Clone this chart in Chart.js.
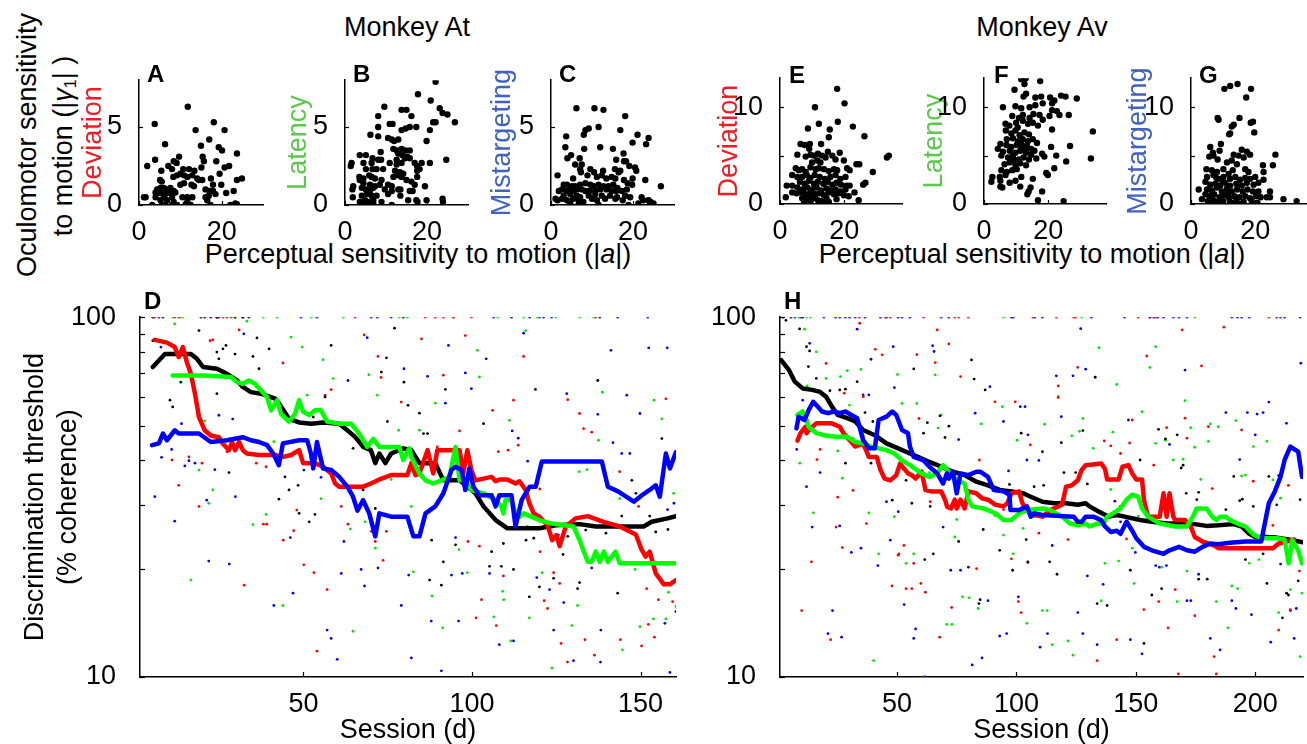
<!DOCTYPE html>
<html><head><meta charset="utf-8">
<script src="https://cdn.jsdelivr.net/npm/chart.js@4.4.1/dist/chart.umd.min.js"></script>
<style>
html,body{margin:0;padding:0;background:#fff;}
body{width:1307px;height:744px;position:relative;overflow:hidden;font-family:"Liberation Sans",Arial,Helvetica,sans-serif;}
canvas{position:absolute;}
.t{position:absolute;white-space:nowrap;font-size:27px;line-height:1;color:#000;transform:translate(-50%,-50%);}
.r{transform:translate(-50%,-50%) rotate(-90deg);}
sub{font-size:16px;vertical-align:-4px;}
</style></head><body>
<div class="t" style="left:407px;top:27px">Monkey At</div>
<div class="t" style="left:1042px;top:27px">Monkey Av</div>
<div class="t r" style="left:27px;top:145px">Oculomotor sensitivity</div>
<div class="t r" style="left:64px;top:146px">to motion (|<i>γ</i><sub>1</sub>| )</div>
<div class="t" style="left:418px;top:254px">Perceptual sensitivity to motion (|<i>a</i>|)</div>
<div class="t" style="left:1032px;top:254px">Perceptual sensitivity to motion (|<i>a</i>|)</div>
<script>
// ---------- tick labels ----------
const TOP_X_TICKS = [0, 20];
const AC_Y_TICKS = [0, 5];
const EG_Y_TICKS = [0, 10];
const EG_Y_MARKS = [0, 5, 10];
const LOG_Y_TICKS = [10, 100];
const LOG_Y_MARKS = [10, 20, 30, 40, 50, 60, 70, 80, 90, 100];
const D_X_TICKS = [50, 100, 150];
const H_X_TICKS = [50, 100, 150, 200];
const PANEL_TITLES = ['Deviation', 'Latency', 'Mistargeting'];

// ---------- Monkey At scatter (|a|, |gamma1|) ----------
const A_DEV = [[11.8,6.3],[3.8,5.2],[18.1,5.3],[13.7,4.8],[20.7,4.8],[6.3,3.9],[17,4.2],[15,3.8],[19.3,3.7],[20.1,3.5],[23.7,3.3],[3.9,2.9],[2,2.5],[9.7,3.1],[15.4,3.1],[15.7,2.8],[18.7,2.8],[8.4,2.8],[9.1,2.7],[7.1,2.5],[21.8,2.5],[20.7,2.4],[8,2.3],[5.4,2.2],[10.7,2.3],[12.1,2.3],[13.4,2.2],[15.1,2.4],[8.3,1.8],[9.2,1.9],[10,2],[10.9,1.9],[11.7,1.8],[12.9,1.9],[14.1,1.7],[14.5,1.6],[15.3,1.6],[19.5,2],[17.4,1.7],[23.7,1.6],[24.9,1.7],[5.1,1.6],[5.5,1.5],[10,1.3],[10.9,1.4],[12.7,1.3],[13.3,1.2],[17.9,1.3],[19.9,1.3],[4.4,1],[5.2,1.1],[6,1.1],[6.8,1],[7.6,1.1],[8.4,0.9],[16.1,1],[17.1,0.9],[17.9,0.9],[22.9,0.9],[4,0.8],[4.8,0.77],[5.6,0.8],[6.4,0.7],[7.6,0.77],[8.8,0.8],[21.1,0.77],[1.6,0.5],[1.2,0.5],[4,0.5],[6,0.5],[8,0.5],[10.5,0.5],[11.7,0.5],[12.9,0.5],[16.1,0.5],[16.9,0.6],[18.5,0.7],[5.2,0.3],[6.8,0.3],[8.4,0.2],[11.7,0.2],[16.5,0.3],[3.2,0],[5.6,0],[6.4,0],[8,0],[9.2,0],[11.3,0.05],[12.5,0],[17.3,0],[22.1,0],[23.3,0.1],[23.7,0.05]];
const B_LAT = [[22.1,7.9],[17.8,7.1],[9.6,6.3],[20.9,6.7],[13.8,6.1],[15,6.1],[8.1,5.7],[16.2,5.7],[23.1,6.2],[23.8,5.9],[25,5.8],[11.6,5.2],[10.9,5.2],[21.5,5.3],[22.1,5.3],[26.8,5.3],[8.1,5],[13.8,4.8],[14.8,4.9],[15.8,5],[17.4,5],[20.7,4.8],[6.2,4.5],[8.1,4.4],[10.5,4.3],[11.4,4.2],[12,4.1],[13,4.2],[19.9,4.1],[11.8,3.6],[12.6,3.5],[13.8,3.6],[14.8,3.5],[15.8,3.5],[8.7,3.4],[13,3.3],[14,3.2],[15.2,3.1],[3.6,3.2],[5.1,3.2],[6.7,3],[8.1,2.9],[8.8,2.9],[12.6,2.9],[14.6,3],[15.8,3],[24.7,2.9],[1.6,2.7],[1.4,2.5],[4.5,2.7],[6.5,2.7],[10.9,2.7],[12.6,2.6],[13.8,2.7],[17,2.7],[18.7,2.7],[20.7,2.7],[17.6,2.5],[18.2,2.3],[17.6,2.2],[5.1,2.3],[6.7,2.3],[7.7,2.3],[9.3,2.3],[12.2,2.2],[13.4,2.1],[14.2,2],[3.5,1.8],[4.5,1.7],[3.6,1.6],[5.9,1.9],[6.5,1.8],[7.3,1.7],[8.9,1.6],[11.8,1.8],[13,1.9],[13.8,1.8],[17.6,1.8],[15,1.6],[16.2,1.5],[4.5,1.4],[6.1,1.3],[7.3,1.2],[8.5,1.3],[10.5,1.3],[11.4,1.2],[17,1.3],[19.5,1.2],[2,1.2],[1.8,1],[4.1,1.1],[5.1,1],[6.1,0.9],[6.9,1.1],[9.7,1],[11.4,0.9],[13,1],[13.5,1],[15.8,0.9],[16.5,0.9],[1.9,0.5],[4.1,0.6],[5.3,0.7],[6.5,0.6],[7.7,0.6],[10.5,0.7],[13.5,0.6],[4.9,0.3],[5.7,0.2],[6.9,0.3],[8.9,0.2],[15.4,0.3],[17.4,0.3],[17.7,0.2],[19.9,0.3],[23.8,0.4],[23.9,0.2],[3.6,0.2],[4.5,0.1],[6.9,0.1],[11.4,0]];
const C_MIS = [[6.2,6.2],[10.6,6.2],[12.8,6.1],[18.1,5.7],[11.6,5],[8.4,4.8],[9.2,4.9],[16.9,4.8],[3.7,4.4],[8,4.5],[21.1,4.5],[23.8,4.3],[19.9,4],[23.2,3.9],[3.5,3.7],[8.1,3.6],[12,3.7],[15.1,3.6],[17.7,3.3],[4.9,3.2],[4,3],[7,3],[15.9,2.9],[17.8,2.8],[18.3,2.8],[5.9,2.6],[7.5,2.6],[7.1,2.3],[19.1,2.5],[20.5,2.4],[20.8,2.2],[9.6,2.3],[10.5,2.1],[12.7,2.2],[15.6,2.3],[16.5,2.1],[16.9,2.2],[1.6,1.9],[7.3,2.1],[8.9,1.9],[11.2,1.8],[12.4,1.9],[13.5,1.7],[14.8,1.8],[15.7,1.7],[17.8,1.6],[19.9,1.7],[23,1.6],[5.4,1.7],[3.1,1.3],[3.9,1.3],[5.1,1.2],[5.9,1.2],[7.1,1.3],[8.4,1.4],[9.6,1.3],[10.4,1.2],[11.6,1.3],[12.8,1.2],[14,1.2],[15.2,1.3],[16.2,1.1],[18.7,1.4],[19.8,1.3],[26.8,1.2],[1.9,0.9],[2.7,1],[3.9,0.9],[4.7,1],[5.5,0.9],[6.3,1],[7.5,1],[8.4,0.9],[9.4,0.9],[10.8,0.9],[12,1],[13.5,1],[14.8,0.9],[15.9,0.9],[17.3,0.9],[18.5,1],[3.1,0.6],[4.7,0.7],[6.3,0.6],[7.1,0.5],[9.2,0.6],[10.8,0.7],[12.4,0.6],[14.4,0.6],[16.1,0.5],[18.1,0.6],[19.3,0.5],[1.1,0.4],[1.6,0.3],[2.7,0.4],[3.9,0.3],[5.4,0.4],[6.7,0.3],[7.9,0.2],[10,0.4],[11.2,0.3],[13.2,0.4],[15.7,0.4],[17.5,0.3],[22.1,0.5],[22.5,0.3],[23.8,0.3],[24.3,0.2],[25,0.1],[4.7,0.1],[6.7,0],[11.6,0],[18.9,0],[21.3,0.1],[24.2,0.1]];

// ---------- Monkey Av scatter ----------
const E_DEV = [[17.8,11.9],[20.1,10.4],[10.9,10],[18,8.5],[12.1,8.3],[22.7,8],[8.7,7.8],[15.5,7.7],[26.3,7],[15.2,6.9],[6.4,6.2],[7.7,6.1],[9.3,6.2],[12.8,6.2],[9.1,5.7],[14.9,5.4],[11.8,5.2],[10.6,5],[5.4,5.1],[8,4.9],[9.5,5.1],[13.1,5],[14.2,4.8],[16.3,5],[18.6,5.3],[33.9,5],[33.3,4.8],[11.6,4.5],[12.6,4.3],[10,4.3],[17.3,4.6],[19.9,4.5],[23.8,4.1],[24.7,4.1],[20.9,3.7],[21.7,3.5],[4.9,3.7],[5.9,3.5],[6.9,3.6],[8,3.3],[9.5,3.8],[11.1,3.6],[12.1,3.7],[13.7,3.6],[15.2,3.4],[16.8,3.6],[17.8,3.5],[28.9,3.3],[3.8,3],[5.4,2.8],[6.9,2.8],[8.3,3],[9.5,2.7],[10.8,3],[12.4,2.8],[14,2.6],[15.7,2.8],[17.3,3],[18.8,2.6],[20.4,2.8],[6.2,2.3],[7.7,2.1],[9,2.4],[10.6,2.1],[11.8,2.3],[13.5,2.1],[14.9,2.3],[16.3,2],[17.6,2.2],[19,2],[20.7,1.9],[21.7,1.9],[26.6,2.2],[25.9,2],[2.1,1.9],[3.8,1.9],[5.4,1.7],[6.9,1.5],[8.5,1.7],[10,1.5],[11.4,1.7],[12.8,1.4],[14.5,1.6],[15.7,1.4],[17.3,1.5],[18.8,1.3],[20.4,1.5],[3.8,1.2],[5.2,1.1],[6.6,1.2],[8,1],[9.5,1.2],[11.1,1],[12.4,1.1],[13.7,0.9],[15.2,1.2],[16.8,1],[18.3,1.1],[19.9,0.9],[21.4,0.8],[23.2,1.2],[1.8,0.7],[6.9,0.6],[8.3,0.5],[9.7,0.7],[11.8,0.4],[14.5,0.6],[17.6,0.5],[24.5,0.4],[7.5,0.2],[9.5,0.2],[13.5,0.1],[15.2,0.2],[8.9,0.9],[10.3,0.6],[7.2,1.3],[12.9,0.3]];
const F_LAT = [[11.6,12.9],[13,13],[17.5,12.7],[12.6,12.4],[9.5,11.8],[13.1,11.4],[12.3,11.1],[16,11],[17.8,11.1],[20.6,11],[21.9,10.7],[24,11.2],[25.4,11.1],[28.9,10.9],[5.9,10],[9.8,10.1],[11.6,9.9],[14.2,10],[16,10.2],[18.3,10.4],[21.2,10.4],[21.2,9.7],[22.7,9.6],[23.5,9.2],[26.4,9.2],[8.8,9.1],[12.1,9.2],[14.2,8.9],[15.4,9.3],[17.3,9.2],[18.3,8.7],[20.4,9.1],[6.7,8.3],[7.9,8.1],[10,8.4],[12.1,8.6],[13.7,8.3],[15.2,8.4],[16.8,8.1],[33.9,7.5],[6.8,7.6],[8.5,7.3],[9.8,7.6],[11.1,7.1],[12.6,7.4],[14,7.2],[21.2,7.7],[7.1,6.7],[9,6.8],[10.6,6.5],[12.1,6.7],[13.7,6.5],[15.2,6.7],[16.5,6.3],[5.1,6.2],[7,6.1],[8.5,5.9],[10.2,6.1],[11.9,5.8],[13.4,6],[14.7,5.7],[15.7,5.5],[20.9,5.9],[26.8,6],[4.3,5.7],[5.9,5.4],[8,5.5],[9.8,5.3],[11.3,5.5],[13.1,5.3],[14.7,5.1],[18.1,5.2],[18.8,4.9],[22.5,5],[33.3,4.7],[5.4,5],[7.5,4.8],[9,5],[10.9,4.6],[12.3,4.8],[14,4.6],[16.3,4.7],[25.6,4.4],[6.4,4.1],[8,4.3],[9.8,4],[11.3,4.2],[13.1,4],[21.9,3.7],[5.4,3.5],[7.1,3.3],[8.8,3.5],[10.2,3.6],[19.4,3.2],[19.9,3],[2.6,2.8],[4.9,2.8],[6.7,3],[11.6,2.8],[15.2,2.6],[2.3,2.3],[5.1,2.4],[8,2.2],[9.8,2.4],[5.7,1.7],[5.1,1.8],[11.3,1.8],[14.5,1.7],[13.9,1.3],[18.1,1.3],[13.5,1],[16.8,0.4],[24.8,0.3],[10.5,7.9],[11.8,6.1],[9.3,4.6],[12.8,5.7],[10.9,8.9]];
const G_MIS = [[14.5,12.4],[12.2,12.2],[10.4,11.9],[18.7,11.9],[17.2,11],[8.3,8.9],[8.6,8.7],[15.1,8.9],[19.3,8.5],[18.6,8.4],[13.3,8.2],[12.7,8],[19.7,7.4],[12.2,7.3],[11.9,7.2],[9.3,6.2],[6,5.9],[6.8,5.3],[8.9,5.5],[15.8,5.6],[17.4,5.4],[18.4,5.1],[26.3,5.1],[25.5,4],[5.7,4.9],[7,5],[8.3,4.6],[13.3,5.1],[14.8,5],[16.4,4.8],[11.2,4.3],[12.7,4.5],[14.3,4.1],[22.4,4],[4.8,3.6],[6.5,3.5],[8.1,3.3],[10.1,3.6],[11.7,3.1],[16.9,3.6],[17.9,3.3],[22.6,3.3],[5,2.8],[7,3],[8.6,2.6],[10.1,2.8],[12.2,2.6],[13.8,2.8],[15.3,2.5],[16.9,2.7],[18.4,2.6],[20,2.8],[2.4,1.5],[4.5,2.3],[6,2],[7.6,2.1],[9.1,1.9],[10.7,2.2],[12.2,1.9],[14.1,2.1],[15.8,1.9],[17.4,2.2],[19.5,2],[21,2.2],[22.6,2.5],[5,1.5],[6.5,1.4],[8.1,1.7],[9.6,1.3],[11.2,1.6],[12.7,1.3],[14.3,1.5],[16.1,1.3],[17.6,1.5],[19.3,1.3],[21,1.3],[24.6,1.3],[4.5,1],[5.8,0.8],[7.2,1],[8.9,0.7],[10.4,0.9],[11.8,0.7],[13.5,0.8],[15.1,0.7],[16.9,0.8],[18.4,0.6],[20.3,0.8],[21.7,0.7],[23.6,0.7],[24.6,0.7],[3.4,0.5],[5.2,0.3],[7,0.4],[8.3,0.2],[10.1,0.3],[12.2,0.2],[14.1,0.3],[16.4,0.2],[18.9,0.3],[20.7,0.1],[28.8,0.5],[32.9,0.3],[5.5,0],[9.1,0],[13.3,0],[15.3,0],[9.8,2.4],[11.5,1.1],[7.9,2.7],[13,3.5]];

// ---------- Monkey At: threshold vs session (running lines) ----------
const D_BLACK_LINE = [[5.3,72.7],[8.9,79],[16.6,79],[18.4,76.6],[20.2,72.7],[24.3,71.9],[27.3,69.6],[30.3,66.7],[32,64],[34.4,61.9],[37.4,61.3],[41.6,59.4],[42.8,57.5],[45.7,52.2],[48.7,51],[52.3,50.6],[55.8,51],[60.6,50.6],[63,48.5],[65.3,46.5],[67.7,43.6],[70,42.7],[71.3,39.3],[72.5,41.8],[74.3,39.3],[76,41.8],[79.6,43.2],[82,42.7],[84.4,39.3],[89.1,39.3],[91.5,35.2],[96.3,35.2],[101,32.4],[103.4,29.8],[107,27.3],[110.5,25.9],[120,25.9],[124.8,26.4],[131.9,26.6],[136.7,26.2],[150.9,26.2],[153.3,27],[158,27.6],[160.5,28]];
const D_RED_LINE = [[5.9,86.5],[9.5,85],[11.8,82.6],[13,77.5],[14.2,82.6],[15.4,75],[16.6,69.6],[17.8,61.3],[19,52.8],[20.7,48.5],[22.5,46.9],[24.9,46.4],[26.1,44.5],[27.9,42.7],[28.8,45],[29.7,42.7],[30.9,45],[32,42.7],[33.2,41.8],[36.8,41.4],[41.6,41.4],[44,40.9],[46.3,41.4],[48.7,42.7],[49.9,39.3],[53.4,39.3],[55.8,38.4],[58.2,36.8],[59.4,34.5],[60.6,33.8],[67.7,33.8],[70,34.5],[72.5,35.4],[76,36.4],[80.8,36.4],[82,39.3],[83.2,36.4],[84.4,36.8],[86.8,42.7],[88.5,36.8],[89.7,42.7],[96.3,42.7],[97.4,36.8],[98.6,42.7],[99.8,37.6],[101,35.2],[105.8,36],[107,35],[108.1,35.4],[110.5,35.4],[112.9,34.5],[114.1,35],[115.9,33.1],[117,30.4],[118.3,28.5],[120,27.9],[122.4,26.4],[123.8,24],[125,24.8],[126,23.1],[127.8,26.2],[130.7,27.6],[134.3,28],[139,27],[143.8,26.2],[148.6,24.9],[150.3,22.6],[151.5,21.6],[152.7,22.3],[154.5,19.4],[156.9,18.1],[158.7,18.1],[160.5,18.6]];
const D_GREEN_LINE = [[11.2,68.9],[20.2,68.9],[28.5,68.2],[30.3,66],[32,65.3],[33.8,66.7],[35.6,65.3],[37.4,62.6],[39.2,60],[40.4,55.1],[42.2,58.8],[43.3,53.9],[45.7,51.3],[47.5,53.9],[48.7,58.8],[49.9,54.6],[51.7,53.5],[53.4,55.1],[55.2,55.1],[57,51.3],[60.6,50.6],[64.1,50.6],[66.5,47.5],[68.9,43.6],[70.7,45.9],[72.5,43.6],[78.4,43.6],[79.6,40.1],[81.4,43.2],[82,40.9],[84.4,36.8],[86.2,35.2],[88.5,34.5],[90.9,35.2],[93.3,36],[95.1,43.6],[96.3,35.2],[97.8,35.2],[99.8,33.1],[103.4,32.4],[107,31],[108.7,29.8],[109.3,28.5],[109.9,31],[111.7,31],[112.9,28.5],[114.1,27.9],[115.3,28.5],[120,27.3],[123.6,26.7],[130.1,26.2],[131.9,24],[134.3,20.9],[135.5,20.9],[136.7,22.3],[137.9,20.9],[139.1,22.3],[140.3,20.9],[142.6,22.3],[143.8,20.7],[160.5,20.7]];
const D_BLUE_LINE = [[5.1,44.1],[7.1,44.6],[8.3,47.5],[9.5,45.5],[11.8,48.5],[13,47.5],[19,47.5],[22.5,45],[27.3,45.5],[32,46.4],[34.4,45.5],[36.8,45],[39.2,44.1],[41,41.8],[42.7,38.8],[43.9,44.6],[48.7,45.5],[51.1,45.5],[52.2,41.8],[52.9,38],[54,45],[55.8,38],[58.2,37.6],[60.6,36],[63,33.8],[64.7,31.7],[66,29],[67.7,31],[69.5,28.5],[71.3,24.6],[72.5,28.5],[76,27.9],[80.8,27.9],[82.6,24.6],[84.4,24.6],[86.2,28.5],[89.1,29.8],[91.5,32.4],[93.9,37.6],[95.1,38.4],[96.9,37.6],[98,33.1],[99.2,38],[100.4,33.8],[102.2,32],[105.8,32],[107,29.8],[108.1,32],[111.7,32],[112.9,26.2],[114.7,31],[117.1,33.8],[118.9,33.8],[120.7,39.7],[138.5,39.7],[140.3,33.8],[143.3,32.8],[148,30.7],[150.4,32],[152.7,33.1],[154.5,34.1],[155.7,31.7],[157.5,41.8],[158.7,38],[160.5,42.2]];

// ---------- Monkey At: per-session thresholds (dots) ----------
const D_BLACK_DOTS = [[5.3,100],[8.3,100],[19.6,100],[20.7,100],[22.5,100],[24.3,100],[29.7,100],[32,100],[33.8,100],[79.6,100],[111.7,100],[137.9,100],[5.3,86],[19,91.8],[36.2,87.6],[26.1,81.7],[39.8,81.7],[24.9,76.6],[36.8,71.9],[35,77.8],[58.2,83.5],[77,93.2],[74.6,77.1],[73.1,70.4],[79.8,66],[81,56.9],[84.4,54.1],[74.9,51.3],[103.4,50.6],[92.1,63],[118.8,63],[137.3,66.7],[156.3,46],[147.4,35.2],[148.6,32.4],[140.3,33.8],[144.4,28],[152.7,28],[158.1,25.7],[139.7,25.1],[128.4,24.6],[123.6,24.6],[118.3,24.3],[116,24],[109.3,23.5],[105.8,22.3],[105.2,20.3],[108.7,20.3],[112.3,19.9],[95.1,23.3],[91.5,20.9],[88,24],[120,17.8],[117,16.7],[124.2,18.8],[127,21.9],[131.9,18.3],[131.3,17.6],[143.2,17.1],[90.9,18],[87.4,18.6],[86.8,47.5],[85.6,47.5],[64.7,43.2],[48.7,28.5],[51.7,27],[53.4,28.3],[48.4,34.1],[42.7,31.2],[45.7,33.1],[44.5,36],[27.9,37],[10.4,58.8],[11.2,56.3],[13.6,66],[24.3,61.3],[27,83.5],[29.7,79],[24.3,80],[56.4,60],[52.9,52.8],[67.7,33.1],[71.3,29.4],[133.7,25.6],[154.5,25.3],[160.5,15.2]];
const D_RED_DOTS = [[5.9,100],[11.8,100],[13,100],[24.3,100],[26.1,100],[27.3,100],[28.5,100],[65.3,100],[86.1,100],[89.1,100],[91.5,100],[94.5,100],[99.8,100],[136.7,100],[30.9,92.2],[22.3,86],[23.1,86.5],[68,89.3],[85,87],[98,88.9],[115.3,77.8],[72.1,77.8],[73,68],[91.5,69],[58.2,62.9],[56.4,60.7],[43.9,74.6],[79,58.1],[112.3,58.8],[106.1,55.1],[128.4,59],[131.9,54],[157.5,59.3],[133.1,49],[135.5,47.9],[113.7,44.1],[110.7,42.7],[107.8,42.3],[96.3,48.3],[95.1,43.6],[89.7,43.6],[13,34.1],[11,40.1],[16,40.9],[19.9,39.3],[27.3,42.3],[36,39.3],[38.9,38.4],[19,29.8],[39.1,26.6],[38.1,26.6],[44,24],[47.1,25.5],[48,29.1],[53.1,19.5],[50.1,20.5],[63.2,26.6],[61.2,29.8],[70.1,25.4],[71.3,23.8],[74.6,25.4],[73.6,21.1],[57,17.5],[32.4,18],[54,11.8],[98.8,23.8],[102.2,23.1],[109.3,19.1],[102.8,16.4],[101.2,14.6],[107.2,13.9],[120.2,22.3],[124.2,19.5],[121.4,16.3],[122.4,15.5],[126,18.2],[126.4,12.4],[128.3,11],[133.5,12.7],[136.3,11.5],[144,12.7],[150.3,12.2],[152.3,14],[154.1,12.9],[155.3,16.4],[159.5,16.2],[151.8,17.6],[149.4,29.8],[120.1,33.3],[143.8,37.2]];
const D_GREEN_DOTS = [[11.2,100],[13.6,100],[14.2,100],[29.7,100],[38,100],[42.2,100],[52.3,100],[61.8,100],[78.4,100],[80.8,100],[94.5,100],[107.6,100],[115.3,100],[119.4,100],[124.8,100],[131.9,100],[136.1,100],[11.8,95.8],[33.2,97.5],[46.3,88],[49.6,82.6],[55.8,76.2],[58.8,67.5],[69.4,69.2],[71.9,60.7],[89.1,57.7],[84.4,48.5],[78.2,48.5],[101.6,80.9],[102.2,68.2],[115.9,91.8],[111.1,51.7],[138.7,61.9],[156.3,52.2],[154,58.8],[137.5,45.5],[134.1,37.7],[159.8,32.4],[143.8,31.3],[36.8,45.3],[20.7,51.5],[19,37.6],[23.1,33.1],[21.9,30.4],[16.6,18.6],[35,26.5],[38.9,28.3],[41.2,45.1],[51.1,60.7],[55.2,31.3],[63.9,25.8],[68.3,27],[71.3,22.8],[76,35.4],[82,29.8],[82.6,19.6],[88.1,16.8],[91.3,13.7],[96.1,22.6],[98.6,19.5],[106.5,14.7],[109.1,17.3],[109.4,16.4],[111.5,12.6],[117,14.6],[120.8,19.5],[123.7,10.6],[129.6,13.9],[131.3,15.8],[144.6,11.9],[149.8,13.8],[153.8,14.5],[157.5,14.5],[160.5,15.7],[158.3,17.2],[148.4,19.9],[131.8,37.2],[64.7,13.4],[43.9,15.8],[116.4,26.2]];
const D_BLUE_DOTS = [[7.1,100],[24.9,100],[32,100],[49.3,100],[54,100],[70.1,100],[71.9,100],[76,100],[106.4,100],[117.1,100],[120,100],[121.2,100],[123.6,100],[143.2,100],[152.1,100],[32.3,89.9],[7.7,82.6],[68.9,87.7],[93,83.5],[115.3,90.3],[104.2,76.6],[141.2,80.9],[152.4,82.2],[157.9,82.2],[79.8,71.9],[63.2,66.7],[86.8,68.5],[99.8,63.3],[98,70],[92.1,57.7],[128.1,61.3],[145.9,60.7],[149.8,54],[141.8,44.8],[146.8,41.8],[137.3,53.7],[111.9,48.3],[113.7,46.1],[116.5,39.8],[159.9,30.4],[158,29.2],[24.9,53.4],[29,52.1],[13.8,50.6],[7.9,40.8],[10.9,42.9],[14.8,38.6],[16,39.9],[17.8,39.3],[23.7,37.7],[5.9,31.7],[11.8,27.1],[21.3,31],[29.8,31.7],[21.9,21],[28,20.6],[41.2,15.8],[46.9,17.1],[46.1,24.4],[50.1,37.6],[55.2,35.9],[57,13.5],[58.2,12.8],[60,11.2],[61.2,19.4],[62,23.8],[67.1,19.9],[68.1,17.9],[72.1,20.1],[79,15.8],[81.2,19.2],[82,11.3],[87.9,14.3],[90.9,10.4],[93.9,19.2],[95.1,24.4],[96,14.3],[97.1,19.4],[105.2,19.4],[108.1,12.3],[112.3,12.6],[119.2,18.9],[123,17.5],[124.2,13.5],[127.2,16.1],[130.1,11.1],[138.1,11],[138.2,13.5],[135.5,20.1],[125.6,24.8],[158.7,10.3],[157.2,14.1],[144.4,41.8]];

// ---------- Monkey Av: running lines ----------
const H_BLACK_LINE = [[1.5,76],[4.7,71.4],[7.2,66.2],[10.5,63.4],[14.5,62.8],[17.8,62],[20.3,60.1],[22.7,56.5],[25.2,53.5],[29.2,52.4],[32.5,51.3],[35.8,48.6],[40.7,47],[45.6,44.6],[50.5,43.2],[55.4,41.8],[58.7,40.9],[63.6,39.6],[68.6,38.4],[73.4,37.2],[78.3,36.4],[83.2,34.9],[88.1,34.1],[93,33.1],[97.9,32.8],[102.8,32.4],[106,31.7],[110.9,30.7],[115.8,30.4],[120.7,30.4],[125.7,30.1],[129,30.4],[130.6,29.8],[134.6,28.8],[138.7,27.9],[142,28.2],[145.3,27.9],[151.8,27.3],[156.7,27],[163.2,26.7],[169.8,26.7],[174.7,26.6],[179.6,26.3],[184.5,26.4],[191,26.6],[194.3,26.2],[197.5,25],[200,24.5],[204,24.5],[209,24.4],[213.9,24.1],[220,23.7]];
const H_RED_LINE = [[8.3,45.4],[9.6,47.6],[11.6,49.6],[12.1,47.6],[13.7,49],[16.2,50.7],[22.7,50.7],[26,49.6],[27.6,47.6],[30.1,45.6],[32.5,43.7],[35.8,44.6],[38.2,40.9],[41.5,40.9],[43.1,37.6],[44.8,35.6],[47.2,35.2],[49.7,36.4],[51.3,39.2],[53,37.9],[54.6,36.8],[56.2,36.4],[57.8,35.6],[60.3,37.2],[61.9,33.1],[64.4,32.8],[68.5,32.8],[70.1,31.1],[71,29.7],[72.6,29.4],[74.2,31.1],[75,29.4],[76.6,31.1],[78.3,29.4],[79.9,32.8],[83.2,32.4],[85.6,31.4],[88.1,31.1],[91.3,30.1],[94.6,29.8],[96.2,30.4],[97.9,32.4],[101.1,32.8],[102.5,30.4],[104.4,29.1],[107.7,28.2],[110.9,27.9],[114.2,29.1],[119.1,30.1],[120.8,33.8],[123.2,34.1],[125.7,35.2],[127.3,37.6],[129,38.8],[135.5,39.2],[137.1,37.9],[138,35.4],[142.8,35.4],[144.4,38.4],[146.9,38.8],[148.5,36.8],[150.2,35.4],[152.6,35.4],[153.4,31.1],[155.1,27.9],[160,27.9],[161.6,32.4],[162.9,27.9],[164.1,32.4],[165.7,27.9],[166.5,27.3],[170.6,27.3],[173,26.2],[174.7,24.5],[177.9,23.8],[182.8,23.2],[184.5,22.8],[207.4,22.8],[209.8,23.5],[213.1,23.8],[216.3,24.1]];
const H_GREEN_LINE = [[8.3,53.5],[10.5,54.7],[12.1,51.8],[13,49.6],[16.2,47.6],[19.4,47],[24.3,46.5],[29.2,46.5],[32.5,45],[35.8,44.6],[39,43.7],[42.3,43.2],[45.6,42.7],[48.9,41.8],[52.1,40],[55.4,38.8],[60.3,36.8],[63.6,36],[66.8,36.8],[69.3,38.8],[71.7,37.2],[75,35.2],[78.3,34.5],[79.9,31.1],[81.5,29.8],[86.4,29.4],[91.3,28.5],[94.6,27.3],[97.9,27.3],[101.1,28.5],[104.4,29.1],[110.9,29.4],[114.2,29.1],[119.1,27.9],[122.4,26.7],[125.7,26.4],[129,26.7],[130.6,26.2],[133.8,26.7],[136.3,26.6],[138,27.9],[140.4,28.5],[143.6,29.4],[146.1,31.1],[148.5,32.1],[151,31.7],[152.6,29.4],[155.1,27.9],[160,26.7],[166.5,26.2],[171.4,26.2],[173.9,27.9],[175.5,29.4],[179.6,29.4],[182,27.9],[183.7,27.3],[185.3,27.9],[187.7,27.9],[189.4,27.3],[192.6,26.7],[195.9,26.2],[199.2,24.9],[202.5,24.3],[209,24.3],[212.3,24.1],[214,20.7],[215.5,24],[218,22.5],[219.6,20.7]];
const H_BLUE_LINE = [[7.9,49.1],[8.8,52.9],[11.3,51.8],[13,55.2],[14.9,58.2],[16.2,57],[18.6,54.7],[21.1,54.1],[23.5,54.7],[26,54.1],[28.4,54.7],[30.9,53.5],[33.3,52.4],[35.8,45.6],[38.2,43.2],[40.7,43.2],[42.3,51.8],[45.6,52.9],[48,54.7],[49.7,53.5],[52.1,48.6],[54.6,47.6],[55.4,43.7],[57,40.9],[58.7,40.5],[61.1,40],[63.6,38.4],[66.8,36.8],[69.3,34.5],[70.9,36.8],[71.7,35.6],[73.4,37.2],[75,32.4],[76.6,36.8],[79.9,36.4],[83.2,37.2],[84.8,37.2],[88.1,36],[90.5,33.1],[94.6,32.8],[97.1,32.1],[97.5,29.1],[101.1,29.1],[104.4,29.8],[106,27.9],[107.7,28.5],[110.9,28.2],[124,27.9],[125.7,27],[127.3,27],[129,27.9],[132.2,27.9],[135.5,27.3],[137.1,26.2],[139.5,25.3],[142,25.5],[143.6,25],[146.1,27],[148.5,25.5],[150.2,24.3],[153.4,23],[156.7,22.5],[161.6,22],[164.1,22.5],[168.1,23],[171.4,22.5],[174.7,22.3],[177.9,23],[181.2,23.5],[184.5,23.4],[189.4,23.6],[195.9,23.8],[202.5,23.8],[205.7,30.4],[208.2,32.8],[210.6,36],[212.3,40.1],[214.7,43.7],[216.3,43],[218,42.3],[219.6,36]];

// ---------- Monkey Av: per-session thresholds (dots) ----------
const H_BLACK_DOTS = [[2.3,100],[5.6,100],[10.5,100],[3.5,98],[9.2,92.8],[12.1,82.8],[13.4,80.6],[12.9,72.9],[16.2,67.6],[21.9,62.5],[26,62.8],[28.4,63.1],[33.3,66.2],[36.6,54.3],[39.9,51.3],[39.1,39.3],[28.4,39.3],[35.8,46.8],[46.4,35.2],[48,31],[53.8,35.2],[56.2,30.4],[57,71.8],[61.1,47.6],[62.7,50.9],[65.2,22],[63.9,29.8],[68,53.2],[70.1,46.3],[71.7,49.8],[75.8,23.8],[81.2,76.1],[82.3,67.3],[86.9,62.8],[86.1,25.7],[93,22.5],[97.1,34.3],[98.4,19.8],[102,47.6],[104.1,24.1],[104.8,20.9],[107.4,33.8],[110.9,42.3],[111.4,34.1],[113.9,20.9],[117,19.3],[118.8,44.8],[119.9,37],[124.8,37],[127.8,48.4],[129.7,34.4],[133,68.1],[133.8,16],[138,15.8],[143.6,29.8],[151.8,40.1],[147.7,19.8],[153.4,12.4],[156.7,16.9],[159.5,48.8],[160.8,17.6],[162.4,45.9],[167.3,47.1],[169,38.1],[169.8,38.8],[171.1,32.4],[176.3,32.6],[175.5,31.1],[176.3,18.7],[179.9,18.7],[187.7,29.2],[191,36.1],[193.5,30.9],[194.6,31.2],[195.9,21.2],[199.2,29.8],[203.3,22],[204.9,18.2],[205.7,36.1],[209,30.1],[209.8,36.3],[213.1,17.1],[213.9,16.9],[211.4,14.6],[218,18.5],[218.8,31.1],[219.6,36.3],[61.6,21.2],[84.8,16.4],[84.3,16]];
const H_RED_DOTS = [[34.2,100],[45.1,100],[47.2,100],[61.1,100],[74.2,100],[75.8,100],[79.9,100],[106.9,100],[116.7,100],[124,100],[124.8,100],[151,100],[155.9,100],[158.3,100],[205.7,100],[10.1,15.3],[14.2,20.9],[16.5,40.2],[17.8,42.9],[20.3,74.4],[22.2,12.7],[24.5,26.1],[25.2,31.6],[27.1,22.9],[27.9,61.5],[31.6,33],[34.4,96.2],[35.9,60.1],[37.2,26.7],[40.9,81.4],[43.8,78.6],[47.9,17.9],[50.5,21.8],[50.8,22],[52.9,23.2],[53.8,17.6],[56.2,17.6],[57,20.7],[58.3,78.7],[59.2,52.3],[60,18.2],[61.9,17.2],[63.6,33],[63.9,30.7],[66,74.8],[66.8,92.2],[67.9,12.9],[71.7,84.3],[72.9,15.6],[76.6,68.4],[83.3,20],[84.5,40.1],[91,58.2],[94.6,29.2],[97.9,21.3],[99.5,58.2],[100.8,16.2],[102,15.1],[104.8,20.8],[105.8,44.2],[109.4,25.1],[117.5,64.4],[117.5,59.8],[121.6,24.1],[125.7,72.5],[133.8,11.1],[136.8,45.3],[139.5,43.9],[142,12.7],[143.6,41.8],[146.1,24.2],[148.5,51.8],[147.4,44.7],[153.4,15.4],[154.6,78],[157.5,38.8],[159.6,16.2],[162.9,49.3],[163.5,13.7],[166.5,17.5],[167.8,10.2],[169.4,92.2],[170.6,52.4],[171.4,46.1],[174.7,14.8],[177.5,73.2],[180.4,49.6],[182,33.4],[182.8,11.4],[183.7,10.2],[186.9,93.8],[194.3,48.6],[199.2,35],[203.8,24.8],[207.4,26.4],[209.8,13.5],[213.9,34.1],[214.7,15.4],[218.5,19.7]];
const H_GREEN_DOTS = [[8.8,100],[12.1,100],[13.7,100],[94.6,100],[127.3,100],[174.7,100],[9.3,39.3],[11.3,92.6],[12.4,64.4],[15,28.6],[16.2,80.1],[20.3,67.6],[25.2,42.5],[26.3,68.4],[27.1,35.7],[29.2,71],[30.1,57],[31.6,46.1],[34.9,71.6],[35.8,45],[38.2,28.6],[40.2,11.1],[42.3,22],[48.9,27.9],[50.2,69.3],[52.1,57.6],[53.8,20.7],[57,22],[58.3,57.6],[63.6,37],[66,69.1],[67.2,49.2],[68.5,53.5],[70.9,14],[73,14],[74.2,24.5],[75,27.4],[77.5,16.7],[80.2,16.6],[84,15.5],[85.3,50.5],[91,28.1],[94.1,56.4],[94.6,24.8],[98.7,22],[100.3,45.5],[102.8,25.9],[104.4,14.1],[107.7,27.9],[110.9,15.3],[111.8,50.4],[112.9,15.3],[115,12.3],[117.5,60.2],[121.6,12.6],[123.2,46.8],[123.7,11.5],[126.4,48.2],[127.8,52.3],[132.2,43.2],[133.8,28.8],[134.6,82.3],[135.5,16.3],[137.1,20.7],[139.5,33.2],[140.4,47.9],[142,65],[142.8,21],[144.4,27.9],[148.5,22.8],[149.3,18.2],[151,28],[152.6,54.6],[155.9,72.5],[158.3,82.8],[158.3,44.6],[160.8,20.2],[162.4,45.5],[165.7,40.1],[167.3,16.2],[169.8,40.3],[170.6,58.6],[171.4,19.7],[173,49.3],[174.7,43.5],[177.2,35.4],[180.4,45.2],[181.2,50.5],[183.7,16.2],[184.5,49.6],[188.6,13.7],[190.2,17.9],[191.9,51.6],[192.6,17.6],[194.3,36.2],[195.9,36.4],[197.5,20.7],[199.2,43.7],[201.6,21.2],[204.9,45.2],[207.4,35.3],[209.8,15.1],[210.6,31.4],[214.7,17.5],[218.8,11.4],[219.6,17.1]];
const H_BLUE_DOTS = [[7.2,100],[9.6,100],[19.4,100],[24.3,100],[26,100],[28.4,100],[30.1,100],[32.5,100],[36.6,100],[43.1,100],[45.6,100],[50.5,100],[52.1,100],[55.4,100],[68.5,100],[71.7,100],[97.9,100],[98.7,100],[107.7,100],[110.9,100],[131.4,100],[145.3,100],[155.9,100],[157.5,100],[159.2,100],[161.6,100],[165.7,100],[168.1,100],[171.4,100],[190.2,100],[192.6,100],[194.3,100],[197.5,100],[209,100],[210.6,100],[212.3,100],[218.8,100],[8,42.9],[10.5,58.8],[12.1,33.8],[13.4,84.6],[14.5,26.1],[17.8,37],[21.1,13.2],[23,15.3],[26,26.3],[26.8,12.9],[30.9,22.2],[33.3,92.6],[34.9,22.8],[35.8,60.8],[38.2,60.8],[39.1,76.4],[42,20.4],[45.6,30.7],[47.2,24],[48.4,82.8],[48.9,63.7],[50.5,28.8],[53,15.9],[57,12.8],[57.8,13.6],[61.6,10],[64.9,83.3],[65.5,80.3],[69.3,26.1],[72.5,19.8],[75.8,45.7],[76.6,19.8],[79.9,20.2],[81.5,10.8],[82.7,54.1],[85.6,11.3],[88.1,16.3],[88.9,64.1],[93,13],[94.6,51.3],[95.9,13.2],[96.7,37.4],[100.8,16.7],[101.6,56.4],[103.6,56.4],[104.4,40.1],[104.8,47.1],[109.4,40],[109.9,12.1],[113,13.2],[115,23.2],[116.7,68.7],[118.8,52.9],[123.7,68.7],[125.7,15.1],[126.9,92.9],[127.8,13.2],[129,71.7],[129.7,19.1],[133.8,12.3],[136.3,18.1],[141.2,30.8],[143.6,27],[146.9,51.8],[147.7,12.7],[149.8,22.2],[152.6,11.6],[158.3,20.4],[159.9,20.2],[162.8,20.4],[164.1,44.3],[167.3,26.1],[170.6,71.3],[171.4,16.3],[173,16.3],[176.3,19.3],[181.2,12.8],[185.3,11.9],[187.7,54.3],[190.2,16.3],[191.9,15.5],[193.5,40.2],[196.7,54.3],[198.4,14.9],[200,47.1],[200.8,53.8],[203.3,54.3],[205.7,58.1],[206.5,12.5],[210.6,20.6],[213.1,50.7],[214.7,15.3],[216.3,12.8],[217.2,15.5],[219.1,74.5]];

// ---------- styling ----------
const FONT = '"Liberation Sans", Arial, Helvetica, sans-serif';
const FS = 27;
const RED = '#ff0000', GREEN = '#00e600', BLUE = '#0000ff', BLACK = '#000000';
const TITLE_COLORS = ['#ee1c24', '#5cc84c', '#4262bf'];
Chart.defaults.font.family = FONT;
Chart.defaults.font.size = FS;
Chart.defaults.color = '#000';

const pairs = arr => arr.map(([x, y]) => ({x, y}));

const decor = {
  id: 'decor',
  afterDraw(chart, args, o) {
    const {ctx, chartArea: a, scales: {x, y}} = chart;
    ctx.save();
    ctx.strokeStyle = '#000';
    ctx.lineWidth = 1.2;
    (o.xMarks || []).forEach(v => {
      const p = Math.round(x.getPixelForValue(v)) + 0.5;
      ctx.beginPath(); ctx.moveTo(p, a.bottom); ctx.lineTo(p, a.bottom - o.len); ctx.stroke();
    });
    (o.yMarks || []).forEach(v => {
      const p = Math.round(y.getPixelForValue(v)) + 0.5;
      ctx.beginPath(); ctx.moveTo(a.left, p); ctx.lineTo(a.left + o.len, p); ctx.stroke();
    });
    if (o.letter) {
      ctx.fillStyle = '#000';
      ctx.font = 'bold 24px ' + FONT;
      ctx.textBaseline = 'alphabetic';
      ctx.textAlign = 'left';
      ctx.fillText(o.letter, a.left + o.dx, a.top + o.dy);
    }
    ctx.restore();
  }
};

function axis(type, min, max, labels, pad, title) {
  return {
    type, min, max,
    grid: {display: false},
    border: {display: true, color: '#000', width: 1.5},
    afterBuildTicks: s => { s.ticks = labels.map(v => ({value: v})); },
    ticks: {padding: pad, color: '#000', font: {size: FS}, maxRotation: 0, autoSkip: false, callback: v => String(v)},
    title: title || {display: false}
  };
}

function panel(rect, m, datasets, xs, ys, deco) {
  const c = document.createElement('canvas');
  const w = m.l + (rect.r - rect.l) + m.r, h = m.t + (rect.b - rect.t) + m.b;
  c.width = w; c.height = h;
  c.style.left = (rect.l - m.l) + 'px'; c.style.top = (rect.t - m.t) + 'px';
  c.style.width = w + 'px'; c.style.height = h + 'px';
  document.body.appendChild(c);
  xs.afterFit = s => { s.height = m.b; };
  ys.afterFit = s => { s.width = m.l; };
  return new Chart(c, {
    type: 'scatter',
    data: {datasets},
    options: {
      responsive: false, animation: false, devicePixelRatio: 1, events: [],
      layout: {padding: {left: 0, top: m.t, right: m.r, bottom: 0}},
      scales: {x: xs, y: ys},
      plugins: {legend: {display: false}, tooltip: {enabled: false}, decor: deco}
    },
    plugins: [decor]
  });
}

function dotSet(data, r, color) {
  return {data: pairs(data), pointRadius: r, pointBackgroundColor: color, pointBorderWidth: 0, showLine: false, order: 10};
}
function lineSet(data, color, order) {
  return {data: pairs(data), showLine: true, borderColor: color, borderWidth: 4.5, pointRadius: 0, tension: 0,
          borderJoinStyle: 'round', borderCapStyle: 'round', order};
}

// ---------- top scatter panels ----------
const TOP_M = {l: 70, t: 20, r: 8, b: 42};
const topPanels = [
  {rect: {l: 139, t: 75, r: 263, b: 205}, data: A_DEV, title: 0, xmax: 30, ymax: 8, yt: AC_Y_TICKS, ym: AC_Y_TICKS, letter: 'A', dx: 8, dy: 2, tp: 8.3},
  {rect: {l: 345, t: 75, r: 468, b: 205}, data: B_LAT, title: 1, xmax: 30, ymax: 8, yt: AC_Y_TICKS, ym: AC_Y_TICKS, letter: 'B', dx: 8, dy: 2, tp: 7.8},
  {rect: {l: 551, t: 75, r: 674, b: 205}, data: C_MIS, title: 2, xmax: 30, ymax: 8, yt: AC_Y_TICKS, ym: AC_Y_TICKS, letter: 'C', dx: 8, dy: 2, tp: 5.8},
  {rect: {l: 780, t: 73, r: 902, b: 204}, data: E_DEV, title: 0, xmax: 38, ymax: 13, yt: EG_Y_TICKS, ym: EG_Y_MARKS, letter: 'E', dx: 9, dy: 5, tp: 3.8},
  {rect: {l: 984, t: 73, r: 1106, b: 204}, data: F_LAT, title: 1, xmax: 38, ymax: 13, yt: EG_Y_TICKS, ym: EG_Y_MARKS, letter: 'F', dx: 10, dy: 5, tp: 4.8},
  {rect: {l: 1191, t: 73, r: 1313, b: 204}, data: G_MIS, title: 2, xmax: 38, ymax: 13, yt: EG_Y_TICKS, ym: EG_Y_MARKS, letter: 'G', dx: 8, dy: 5, tp: 1.8}
];
topPanels.forEach(p => {
  panel(p.rect, TOP_M, [dotSet(p.data, 3.2, BLACK)],
    axis('linear', 0, p.xmax, TOP_X_TICKS, 3),
    axis('linear', 0, p.ymax, p.yt, 9, {display: true, text: PANEL_TITLES[p.title], color: TITLE_COLORS[p.title],
      font: {size: FS}, padding: {top: p.tp, bottom: 0}}),
    {xMarks: TOP_X_TICKS, yMarks: p.ym, len: 4, letter: p.letter, dx: p.dx, dy: p.dy});
});

// ---------- session panels ----------
const sessionTitle = {display: true, text: 'Session (d)', color: '#000', font: {size: FS}, padding: {top: 0, bottom: 0}};
const BOT_M_D = {l: 121, t: 30, r: 10, b: 70};
const BOT_M_H = {l: 70, t: 30, r: 0, b: 70};
panel({l: 140, t: 315, r: 676, b: 677}, BOT_M_D,
  [lineSet(D_BLUE_LINE, BLUE, 1), lineSet(D_GREEN_LINE, '#00ff00', 2), lineSet(D_RED_LINE, RED, 3), lineSet(D_BLACK_LINE, BLACK, 4),
   dotSet(D_BLACK_DOTS, 1.4, BLACK), dotSet(D_RED_DOTS, 1.4, RED), dotSet(D_GREEN_DOTS, 1.4, GREEN), dotSet(D_BLUE_DOTS, 1.4, BLUE)],
  axis('linear', 1.5, 160.5, D_X_TICKS, 3, sessionTitle),
  axis('logarithmic', 10, 100, LOG_Y_TICKS, 16, {display: true, text: ['Discrimination threshold', '(% coherence)'], color: '#000',
    font: {size: FS, lineHeight: 1.22}, padding: {top: 0, bottom: 0}}),
  {xMarks: D_X_TICKS, yMarks: LOG_Y_MARKS, len: 5, letter: 'D', dx: 4, dy: -8});

panel({l: 780, t: 315, r: 1307, b: 677}, BOT_M_H,
  [lineSet(H_BLUE_LINE, BLUE, 1), lineSet(H_GREEN_LINE, '#00ff00', 2), lineSet(H_RED_LINE, RED, 3), lineSet(H_BLACK_LINE, BLACK, 4),
   dotSet(H_BLACK_DOTS, 1.4, BLACK), dotSet(H_RED_DOTS, 1.4, RED), dotSet(H_GREEN_DOTS, 1.4, GREEN), dotSet(H_BLUE_DOTS, 1.4, BLUE)],
  axis('linear', 1, 220, H_X_TICKS, 3, sessionTitle),
  axis('logarithmic', 10, 100, LOG_Y_TICKS, 16),
  {xMarks: H_X_TICKS, yMarks: LOG_Y_MARKS, len: 5, letter: 'H', dx: 4, dy: -8});
</script>
</body></html>
